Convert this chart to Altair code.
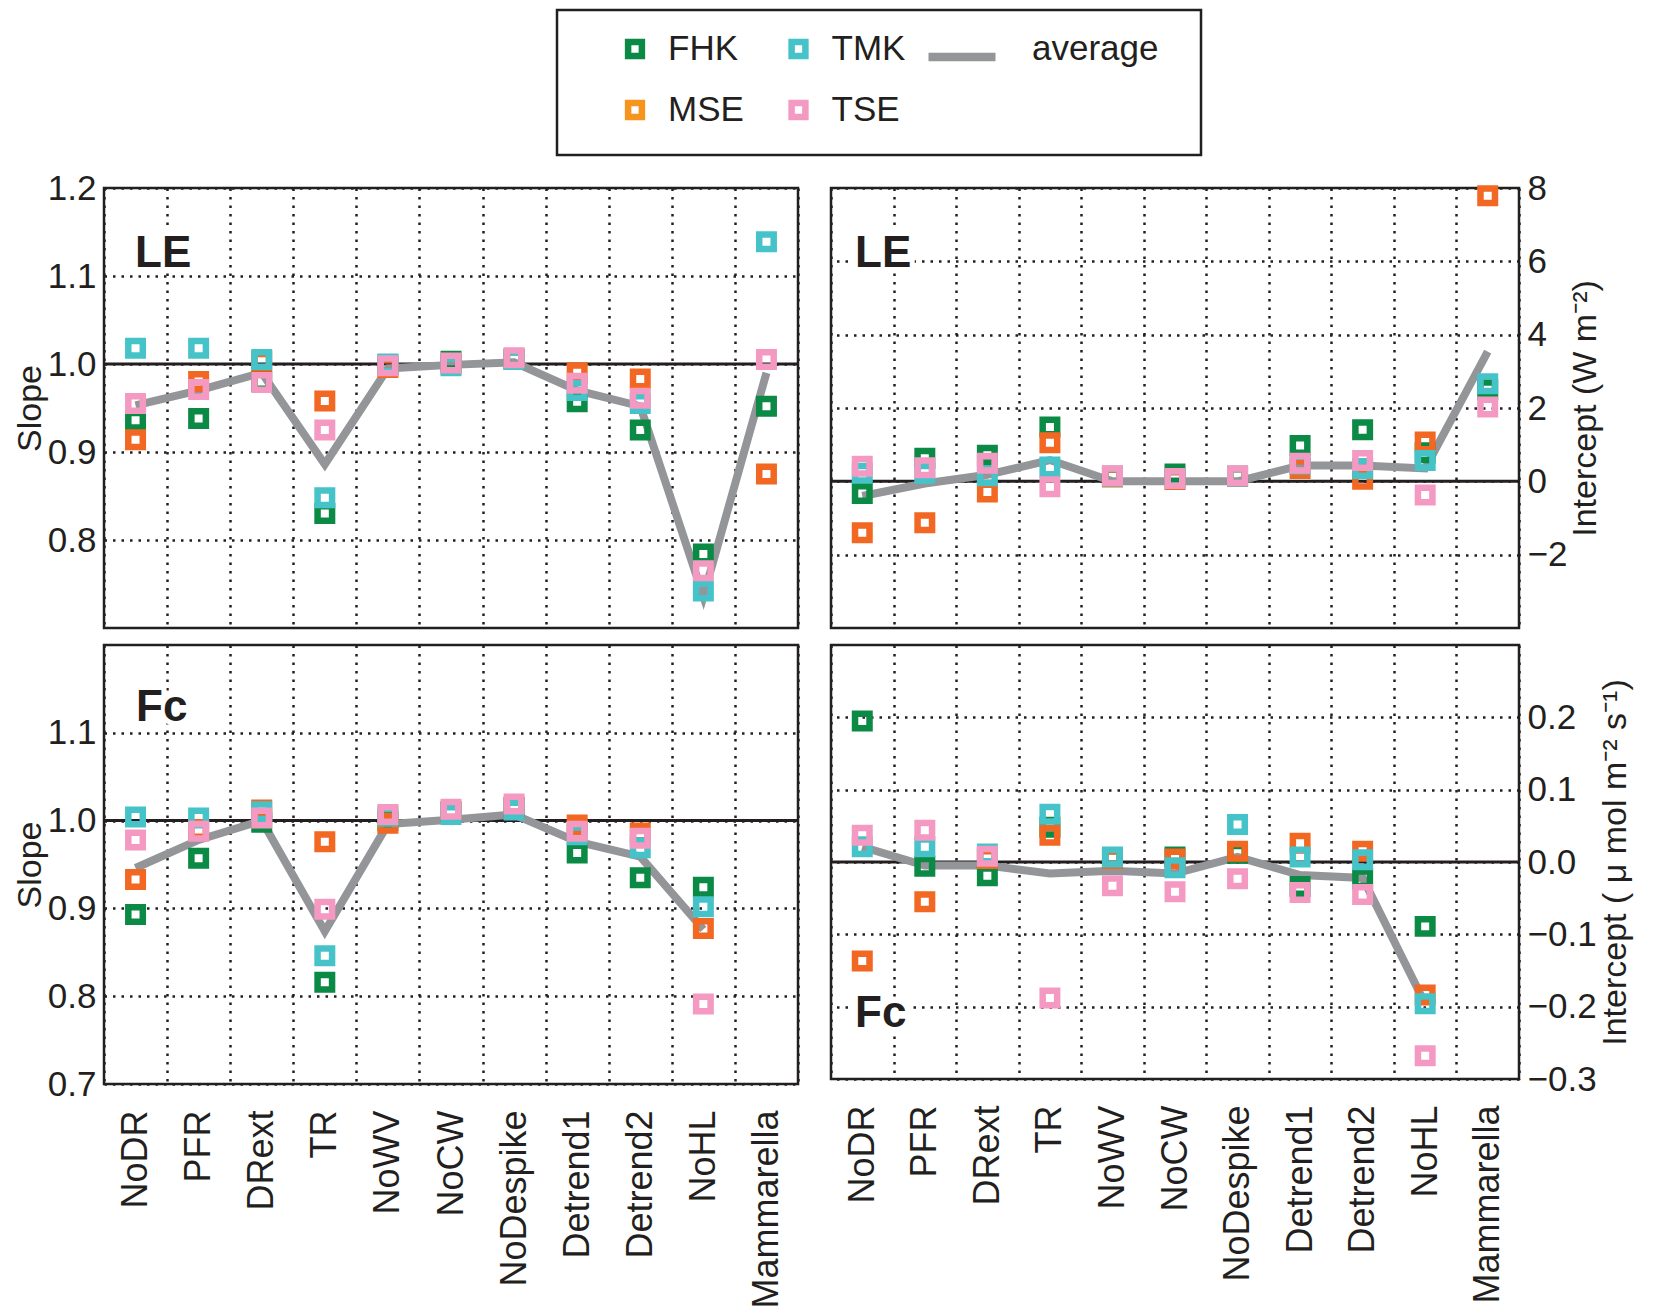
import altair as alt
import pandas as pd

categories = ["NoDR", "PFR", "DRext", "TR", "NoWV", "NoCW", "NoDespike",
              "Detrend1", "Detrend2", "NoHL", "Mammarella"]
series = ["FHK", "MSE", "TMK", "TSE"]
colors = ["#0b8a45", "#f26722", "#45c3c8", "#f49ac2"]
legend_colors = ["#0b8a45", "#f7941d", "#45c3c8", "#f49ac2"]
avg_color = "#939598"

# LE slope
le_slope_fhk = [0.936, 0.938, 0.980, 0.830, 0.999, 1.003, 1.005, 0.957, 0.925, 0.784, 0.952]
le_slope_mse = [0.914, 0.980, 1.003, 0.958, 0.996, 1.000, 1.006, 0.990, 0.983, None, 0.875]
le_slope_tmk = [1.018, 1.018, 1.005, 0.848, 1.000, 0.998, 1.005, 0.970, 0.955, 0.742, 1.139]
le_slope_tse = [0.955, 0.971, 0.979, 0.925, 0.998, 1.001, 1.007, 0.978, 0.961, 0.765, 1.005]
le_slope_avg = [0.953, 0.970, 0.990, 0.886, 0.995, 0.999, 1.002, 0.970, 0.952, 0.736, 0.990]

# LE intercept (W m-2)
le_int_fhk = [-0.33, 0.63, 0.71, 1.48, 0.14, 0.20, 0.14, 0.98, 1.41, 0.78, 2.50]
le_int_mse = [-1.40, -1.13, -0.29, 1.05, 0.12, 0.05, 0.13, 0.35, 0.06, 1.07, 7.79]
le_int_tmk = [0.22, 0.22, 0.15, 0.39, 0.14, 0.08, 0.14, 0.47, 0.35, 0.57, 2.66]
le_int_tse = [0.41, 0.37, 0.49, -0.15, 0.15, 0.08, 0.15, 0.49, 0.57, -0.37, 2.03]
le_int_avg = [-0.40, -0.06, 0.18, 0.58, 0.00, 0.00, 0.00, 0.43, 0.43, 0.35, 3.54]

# Fc slope
fc_slope_fhk = [0.893, 0.957, 0.998, 0.816, 1.000, 1.010, 1.015, 0.963, 0.935, 0.924, None]
fc_slope_mse = [0.933, 0.990, 1.012, 0.976, 0.997, 1.010, 1.015, 0.995, 0.986, 0.877, None]
fc_slope_tmk = [1.004, 1.003, 1.010, 0.846, 1.005, 1.007, 1.012, 0.984, 0.969, 0.902, None]
fc_slope_tse = [0.978, 0.988, 1.003, 0.899, 1.007, 1.013, 1.019, 0.988, 0.980, 0.791, None]
fc_slope_avg = [0.946, 0.978, 1.000, 0.874, 0.996, 1.001, 1.007, 0.976, 0.959, 0.876, None]

# Fc intercept (umol m-2 s-1)
fc_int_fhk = [0.195, -0.006, -0.019, 0.048, 0.005, 0.007, 0.012, -0.034, -0.023, -0.089, None]
fc_int_mse = [-0.137, -0.055, 0.005, 0.037, 0.005, 0.004, 0.015, 0.026, 0.015, -0.184, None]
fc_int_tmk = [0.021, 0.021, 0.011, 0.066, 0.007, -0.008, 0.052, 0.007, 0.003, -0.196, None]
fc_int_tse = [0.037, 0.044, 0.008, -0.188, -0.033, -0.041, -0.023, -0.042, -0.045, -0.268, None]
fc_int_avg = [0.021, -0.005, -0.005, -0.016, -0.012, -0.016, 0.007, -0.018, -0.022, -0.196, None]

FONT = "Liberation Sans"
INK = "#231f20"
DOTS = [2.5, 6]
FRAME = alt.ViewBackground(stroke=INK, strokeWidth=2.5)


def long_points(fhk, mse, tmk, tse):
    rows = []
    for s, vals in zip(series, [fhk, mse, tmk, tse]):
        for c, v in zip(categories, vals):
            if v is not None:
                rows.append({"method": c, "series": s, "value": v})
    return pd.DataFrame(rows)


def long_avg(vals):
    return pd.DataFrame([{"method": c, "idx": i, "value": v}
                         for i, (c, v) in enumerate(zip(categories, vals)) if v is not None])


def panel(points, avg, domain, ticks, fmt, ref, side, title, label, lx, ly,
          show_x, width, height):
    if show_x:
        xaxis = alt.Axis(title=None, labelAngle=-90, labelFontSize=36, labelPadding=26,
                         labelOverlap=False, labelLimit=400, ticks=False, domain=False,
                         grid=True, tickBand="extent", gridDash=DOTS, gridColor=INK,
                         gridWidth=2.5)
    else:
        xaxis = alt.Axis(title=None, labels=False, ticks=False, domain=False, grid=True,
                         tickBand="extent", gridDash=DOTS, gridColor=INK, gridWidth=2.5)
    x = alt.X("method:N", sort=categories,
              scale=alt.Scale(type="band", domain=categories, paddingInner=0, paddingOuter=0),
              axis=xaxis)
    yaxis_opts = dict(orient=side, values=ticks, format=fmt, grid=True, gridDash=DOTS,
                      gridColor=INK, gridWidth=2.5, ticks=False, domain=False,
                      labelFontSize=35, labelPadding=8, title=title, titleFontSize=34,
                      titleFontWeight="normal", titlePadding=0)
    if side == "right":
        yaxis_opts.update(titleAngle=270, titleBaseline="top", titlePadding=2)
    y = alt.Y("value:Q", scale=alt.Scale(domain=domain, nice=False, zero=False),
              axis=alt.Axis(**yaxis_opts))

    rule = alt.Chart(pd.DataFrame({"value": [ref]})).mark_rule(
        color=INK, strokeWidth=3).encode(y=y)
    line = alt.Chart(avg).mark_line(color=avg_color, strokeWidth=8).encode(
        x=x, y=y, order="idx:Q")
    pts = alt.Chart(points).mark_point(
        shape="square", filled=False, size=210, strokeWidth=6.5, opacity=1).encode(
        x=x, y=y,
        color=alt.Color("series:N", scale=alt.Scale(domain=series, range=colors), legend=None))
    lab = pd.DataFrame({"t": [label]})
    halo = alt.Chart(lab).mark_text(
        align="left", baseline="middle", fontSize=44, fontWeight="bold", font=FONT,
        color="white", stroke="white", strokeWidth=10).encode(
        text="t:N", x=alt.value(lx), y=alt.value(ly))
    txt = alt.Chart(lab).mark_text(
        align="left", baseline="middle", fontSize=44, fontWeight="bold", font=FONT,
        color=INK).encode(text="t:N", x=alt.value(lx), y=alt.value(ly))
    return alt.layer(rule, line, pts, halo, txt).properties(
        width=width, height=height, view=FRAME)


tl = panel(long_points(le_slope_fhk, le_slope_mse, le_slope_tmk, le_slope_tse),
           long_avg(le_slope_avg), [0.7, 1.2], [0.8, 0.9, 1.0, 1.1, 1.2], ".1f", 1.0,
           "left", "Slope", "LE", 31, 66, False, 694, 440)
tr = panel(long_points(le_int_fhk, le_int_mse, le_int_tmk, le_int_tse),
           long_avg(le_int_avg), [-4, 8], [-2, 0, 2, 4, 6, 8], "d", 0,
           "right", "Intercept (W m⁻²)", "LE", 24, 66, False, 688, 440)
bl = panel(long_points(fc_slope_fhk, fc_slope_mse, fc_slope_tmk, fc_slope_tse),
           long_avg(fc_slope_avg), [0.7, 1.2], [0.7, 0.8, 0.9, 1.0, 1.1], ".1f", 1.0,
           "left", "Slope", "Fc", 32, 63, True, 694, 439)
br = panel(long_points(fc_int_fhk, fc_int_mse, fc_int_tmk, fc_int_tse),
           long_avg(fc_int_avg), [-0.3, 0.3], [-0.3, -0.2, -0.1, 0.0, 0.1, 0.2], ".1f", 0,
           "right", "Intercept ( μ mol m⁻² s⁻¹)", "Fc", 24, 369, True, 688, 434)

# legend box (sits 453 px right of the left panels' plot edge)
legend_names = ["FHK", "TMK", "MSE", "TSE"]
legend_cols = [0, 1, 0, 1]
legend_rows = [0, 0, 1, 1]
leg_df = pd.DataFrame({"name": legend_names, "col": legend_cols, "row": legend_rows})
avg_df = pd.DataFrame({"name": ["average"], "col": [2], "row": [0]})

BOX_L, BOX_W, BOX_H = 453, 644, 145
lx = alt.X("col:O", scale=alt.Scale(type="point", domain=[0, 1, 2],
                                    range=[BOX_L + 78, BOX_L + 405], padding=0), axis=None)
ly = alt.Y("row:O", scale=alt.Scale(type="point", domain=[0, 1], range=[39, 100],
                                    padding=0), axis=None)

frame = alt.Chart(pd.DataFrame({"v": [0]})).mark_rect(
    fillOpacity=0, stroke=INK, strokeWidth=2.5).encode(
    x=alt.value(BOX_L), x2=alt.value(BOX_L + BOX_W), y=alt.value(0), y2=alt.value(BOX_H))
leg_pts = alt.Chart(leg_df).mark_point(
    shape="square", filled=False, size=190, strokeWidth=6.5, opacity=1).encode(
    x=lx, y=ly,
    color=alt.Color("name:N", scale=alt.Scale(domain=["FHK", "MSE", "TMK", "TSE"],
                                              range=legend_colors), legend=None))
leg_txt = alt.Chart(leg_df).mark_text(
    align="left", baseline="middle", dx=33, fontSize=35, font=FONT, color=INK).encode(
    x=lx, y=ly, text="name:N")
avg_sym = alt.Chart(avg_df).mark_point(
    shape="stroke", size=67 * 67, strokeWidth=8.5, color=avg_color, opacity=1).encode(
    x=lx, y=ly, yOffset=alt.value(8))
avg_txt = alt.Chart(avg_df).mark_text(
    align="left", baseline="middle", dx=70, fontSize=35, font=FONT, color=INK).encode(
    x=lx, y=ly, text="name:N")
legend = alt.layer(frame, leg_pts, leg_txt, avg_sym, avg_txt).properties(
    width=BOX_L + BOX_W, height=BOX_H, view=alt.ViewBackground(strokeOpacity=0))

grid = alt.concat(tl, tr, bl, br, columns=2, spacing={"row": 17, "column": 33},
                  bounds="flush")

chart = alt.vconcat(
    legend, grid, spacing=33, bounds="flush", background="white",
    padding={"left": 4, "top": 0, "right": 0, "bottom": 0}
).resolve_scale(
    color="independent"
).configure_axis(
    labelFont=FONT, titleFont=FONT, labelColor=INK, titleColor=INK
).configure_view(
    stroke=INK, strokeWidth=2.5
)

chart.save("out.html", embed_options={"renderer": "svg", "actions": False})
